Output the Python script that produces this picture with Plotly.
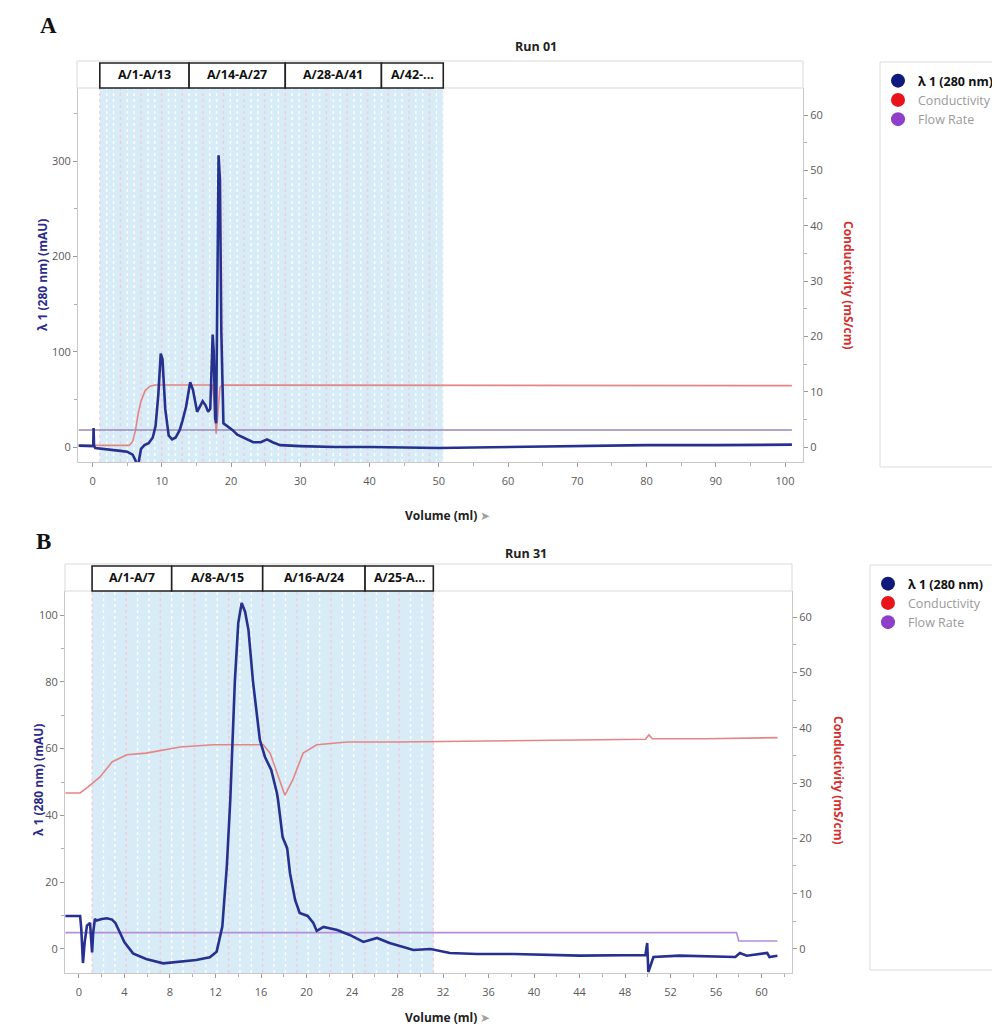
import plotly.graph_objects as go

# ---------------- DATA ----------------
# Panel A (Run 01)
uvA_vol = [-2.0, -1.0, 0.0, 0.1, 0.15, 0.22, 0.4, 2, 4, 5, 5.8, 6.2, 6.5, 6.8, 7.0, 7.5, 8.1, 8.7, 9.1, 9.5,
           9.85, 10.1, 10.5, 11.0, 11.5, 12.0, 12.6, 13.0, 13.5, 14.1, 14.5, 15.1, 15.5, 15.9, 16.3, 16.7, 17.0,
           17.2, 17.35, 17.5, 17.7, 17.85, 18.0, 18.2, 18.4, 18.6, 18.9, 19.5, 20.2, 20.9, 22, 23.2, 24.3, 25.2,
           26, 27.1, 30, 35, 40, 45, 50, 55, 60, 70, 80, 90, 101]
uvA_mau = [1.5, 1.5, 1.5, 1.0, 20, 1, -1, -2, -4, -5, -8, -14, -23, -10, -2, 2, 4, 10, 22, 55,
           98, 92, 40, 12, 8, 10, 18, 28, 42, 68, 60, 37, 42, 48, 44, 37, 40,
           100, 118, 100, 30, 25, 120, 306, 280, 120, 25, 22, 18, 13, 9, 5, 5, 8,
           5, 2, 1, 0, 0, -0.5, -1, -0.5, 0, 1, 2, 2, 2.5]
condA_vol = [-2, 5.3, 5.8, 6.2, 6.6, 7.0, 7.6, 8.3, 9, 17.3, 17.6, 17.85, 18.1, 18.4, 18.7, 101]
condA_ms = [0.3, 0.3, 1.0, 3, 6.1, 8.3, 10.2, 11.0, 11.2, 11.2, 8, 2.4, 6, 10.8, 11.2, 11.1]
flowA_vol = [-2, 101]
flowA_val = [3.07, 3.07]
fracA_first, fracA_size, fracA_count = 1.05, 0.992, 50
groupsA = [("A/1-A/13", 0, 13), ("A/14-A/27", 13, 27), ("A/28-A/41", 27, 41), ("A/42-...", 41, 50)]

# Panel B (Run 31)
uvB_vol = [-1.2, 0.1, 0.2, 0.35, 0.5, 0.7, 0.97, 1.08, 1.15, 1.25, 1.4, 1.55, 2.0, 2.45, 2.9, 3.2, 3.6, 4.0,
           4.75, 5.9, 7.4, 8.9, 10.3, 11.5, 12.1, 12.6, 13.0, 13.3, 13.7, 14.0, 14.3, 14.6, 14.9, 15.3, 15.9,
           16.35, 16.9, 17.4, 17.5, 17.9, 18.3, 18.55, 19.0, 19.4, 20.1, 20.6, 20.9, 21.5, 22.7, 23.8, 25.0,
           26.2, 27.3, 29.4, 30.9, 32.6, 35, 38.2, 44, 49.8, 49.95, 50.05, 50.5, 52.8, 57.7, 58.1, 58.7,
           60.5, 60.7, 61.4]
uvB_mau = [9.9, 9.9, 6, -4.2, 2, 7, 7.8, 3, -1, 5, 9, 8.5, 9.0, 9.2, 8.8, 7.8, 5, 2,
           -1.3, -3, -4.3, -3.8, -3.3, -2.5, -0.8, 6.7, 25, 44.6, 80, 97.6, 103.6, 101, 95.5, 80, 62.6,
           57.5, 53.6, 46.7, 44.6, 33.5, 30.2, 22.7, 14.7, 10.8, 9.9, 7.8, 5.4, 6.6, 5.7, 4.2, 2.1,
           3.3, 1.8, -0.3, 0, -1.2, -1.5, -1.5, -2, -1.8, 1.8, -6.9, -2.4, -2, -2.4, -1.2, -2,
           -1.2, -2.4, -2]
condB_vol = [-1.2, 0.1, 0.8, 1.85, 2.9, 4.2, 5.9, 7.4, 8.9, 11.8, 16.2, 16.8, 17.5, 18.1, 18.8, 19.7, 20.9,
             23.6, 28, 35.3, 45, 49.8, 50.1, 50.4, 55, 61.4]
condB_ms = [28.2, 28.2, 29.3, 31.1, 33.8, 35.1, 35.4, 36, 36.5, 36.9, 36.9, 35.4, 31.1, 27.8, 30.6, 35.4, 36.9,
            37.4, 37.4, 37.6, 37.8, 37.9, 38.7, 38.0, 38.0, 38.2]
flowB_vol = [-1.2, 57.8, 58.0, 61.4]
flowB_val = [2.95, 2.95, 1.45, 1.45]
fracB_first, fracB_size, fracB_count = 1.15, 1.0, 30
groupsB = [("A/1-A/7", 0, 7), ("A/8-A/15", 7, 15), ("A/16-A/24", 15, 24), ("A/25-A...", 24, 30)]

# ---------------- STYLE ----------------
OFF = 8                      # default page margin of the browser body
W, H = 1000 - OFF, 1026 - OFF
UV_C = "#26318f"
COND_C = "#e58585"
FONT = "Open Sans"
TICK_C = "#5a5a5a"
AX_C = "#c8c8c8"
SHADE = "#d7ecf6"


def px(p):
    return (p - OFF) / W


def py(p):
    return 1 - (p - OFF) / H


fig = go.Figure()

# Panel A traces
fig.add_trace(go.Scatter(x=condA_vol, y=condA_ms, mode="lines", line=dict(color=COND_C, width=1.6),
                         xaxis="x", yaxis="y", showlegend=False))
fig.add_trace(go.Scatter(x=flowA_vol, y=flowA_val, mode="lines", line=dict(color="#9a88b8", width=1.6),
                         xaxis="x", yaxis="y", showlegend=False))
fig.add_trace(go.Scatter(x=uvA_vol, y=uvA_mau, mode="lines", line=dict(color=UV_C, width=2.6),
                         xaxis="x", yaxis="y2", showlegend=False))
# Panel B traces
fig.add_trace(go.Scatter(x=condB_vol, y=condB_ms, mode="lines", line=dict(color=COND_C, width=1.6),
                         xaxis="x2", yaxis="y3", showlegend=False))
fig.add_trace(go.Scatter(x=flowB_vol, y=flowB_val, mode="lines", line=dict(color="#b48fd8", width=1.6),
                         xaxis="x2", yaxis="y3", showlegend=False))
fig.add_trace(go.Scatter(x=uvB_vol, y=uvB_mau, mode="lines", line=dict(color=UV_C, width=2.6),
                         xaxis="x2", yaxis="y4", showlegend=False))

# Legend entries (circle markers)
leg_items = [("<b>λ 1 (280 nm)</b>", "#0f1a7c"),
             ("<span style='color:#9a9a9a'>Conductivity</span>", "#e8141c"),
             ("<span style='color:#9a9a9a'>Flow Rate</span>", "#8d3fc9")]
for lg, xa, ya in [("legend", "x", "y"), ("legend2", "x2", "y3")]:
    for name, col in leg_items:
        fig.add_trace(go.Scatter(x=[None], y=[None], mode="markers", name=name,
                                 marker=dict(size=14, color=col), legend=lg, xaxis=xa, yaxis=ya))

shapes = []
annots = []


def panel(xref, yref, first, size, count, groups, hx0, hx1, hy0, hy1):
    edges = [first + i * size for i in range(count + 1)]
    shapes.append(dict(type="rect", xref=xref, yref=yref + " domain", x0=edges[0], x1=edges[-1], y0=0, y1=1,
                       fillcolor=SHADE, line=dict(width=0), layer="below"))
    for i, e in enumerate(edges):
        col = "rgba(255,255,255,0.95)" if i % 3 else "rgba(245,200,215,0.9)"
        shapes.append(dict(type="line", xref=xref, yref=yref + " domain", x0=e, x1=e, y0=0, y1=1,
                           line=dict(color=col, width=1.4, dash="dot"), layer="below"))
    # header strip
    shapes.append(dict(type="rect", xref="paper", yref="paper", x0=hx0, x1=hx1, y0=hy0, y1=hy1,
                       fillcolor="white", line=dict(color="#d9d9d9", width=1)))
    for label, a, b in groups:
        shapes.append(dict(type="rect", xref=xref, yref="paper", x0=edges[a], x1=edges[b],
                           y0=hy0, y1=hy1 - 0.002, fillcolor="white", line=dict(color="#222", width=1.6)))
        annots.append(dict(x=(edges[a] + edges[b]) / 2, y=(hy0 + hy1) / 2, xref=xref, yref="paper",
                           xanchor="center", yanchor="middle",
                           text="<b>" + label + "</b>", showarrow=False,
                           font=dict(family=FONT, size=12.5, color="#111")))


panel("x", "y", fracA_first, fracA_size, fracA_count, groupsA, px(77), px(803), py(88), py(61))
panel("x2", "y3", fracB_first, fracB_size, fracB_count, groupsB, px(65), px(792), py(591), py(564))

# legend boxes
for x0, x1, y0, y1 in [(880, 998, 467, 62), (870, 998, 970, 565)]:
    shapes.append(dict(type="rect", xref="paper", yref="paper", x0=px(x0), x1=px(x1), y0=py(y0), y1=py(y1),
                       fillcolor="white", line=dict(color="#dcdcdc", width=1), layer="below"))


def txt(x, y, t, size, color, angle=0, family=FONT):
    annots.append(dict(x=px(x), y=py(y), xref="paper", yref="paper", text=t, showarrow=False,
                       xanchor="center", yanchor="middle",
                       textangle=angle, font=dict(family=family, size=size, color=color)))


txt(48, 25, "<b>A</b>", 23, "#111", family="Liberation Serif")
txt(43, 541, "<b>B</b>", 23, "#111", family="Liberation Serif")
txt(536, 47, "<b>Run 01</b>", 12.5, "#222")
txt(526, 553, "<b>Run 31</b>", 12.5, "#222")
txt(42, 275, "<b>λ 1 (280 nm) (mAU)</b>", 12, "#2a2a8a", angle=-90)
txt(38, 780, "<b>λ 1 (280 nm) (mAU)</b>", 12, "#2a2a8a", angle=-90)
txt(849, 285, "<b>Conductivity (mS/cm)</b>", 12, "#d43030", angle=90)
txt(839, 780, "<b>Conductivity (mS/cm)</b>", 12, "#d43030", angle=90)
txt(447, 515, "<b>Volume (ml)</b> <span style='color:#a0a0a0'>➤</span>", 12, "#222")
txt(447, 1017, "<b>Volume (ml)</b> <span style='color:#a0a0a0'>➤</span>", 12, "#222")

tickfont = dict(family=FONT, size=11, color=TICK_C)
common = dict(showgrid=False, zeroline=False, showline=True, linecolor=AX_C, linewidth=1,
              ticks="outside", ticklen=4, tickcolor="#9a9a9a", tickfont=tickfont)


def minor(d):
    return dict(dtick=d, ticks="outside", ticklen=3, tickcolor="#b0b0b0", showgrid=False)


fig.update_layout(
    width=W, height=H, margin=dict(l=0, r=0, t=0, b=0), plot_bgcolor="white", paper_bgcolor="white",
    xaxis=dict(domain=[px(78), px(803)], range=[-2.1, 102.6], anchor="y", tick0=0, dtick=10,
               minor=minor(5), ticklabelstandoff=5, **common),
    yaxis=dict(domain=[py(462), py(88)], range=[-2.71, 64.9], anchor="x", side="right", tick0=0, dtick=10,
               minor=minor(5), **common),
    yaxis2=dict(range=[-15.7, 376.7], overlaying="y", anchor="x", side="left", tick0=0, dtick=100,
                minor=minor(50), **common),
    xaxis2=dict(domain=[px(65), px(792)], range=[-1.23, 62.68], anchor="y3", tick0=0, dtick=4,
                minor=minor(2), ticklabelstandoff=5, **common),
    yaxis3=dict(domain=[py(973), py(591)], range=[-4.34, 64.7], anchor="x2", side="right", tick0=0,
                dtick=10, minor=minor(5), **common),
    yaxis4=dict(range=[-7.19, 107.2], overlaying="y3", anchor="x2", side="left", tick0=0, dtick=20,
                minor=minor(10), **common),
    legend=dict(x=px(878), y=py(66), xanchor="left", yanchor="top", bgcolor="rgba(0,0,0,0)",
                font=dict(family=FONT, size=12.5, color="#111"), itemsizing="trace", itemwidth=30,
                tracegroupgap=0),
    legend2=dict(x=px(868), y=py(569), xanchor="left", yanchor="top", bgcolor="rgba(0,0,0,0)",
                 font=dict(family=FONT, size=12.5, color="#111"), itemsizing="trace", itemwidth=30,
                 tracegroupgap=0),
    shapes=shapes, annotations=annots,
)

fig.write_html("out.html")
